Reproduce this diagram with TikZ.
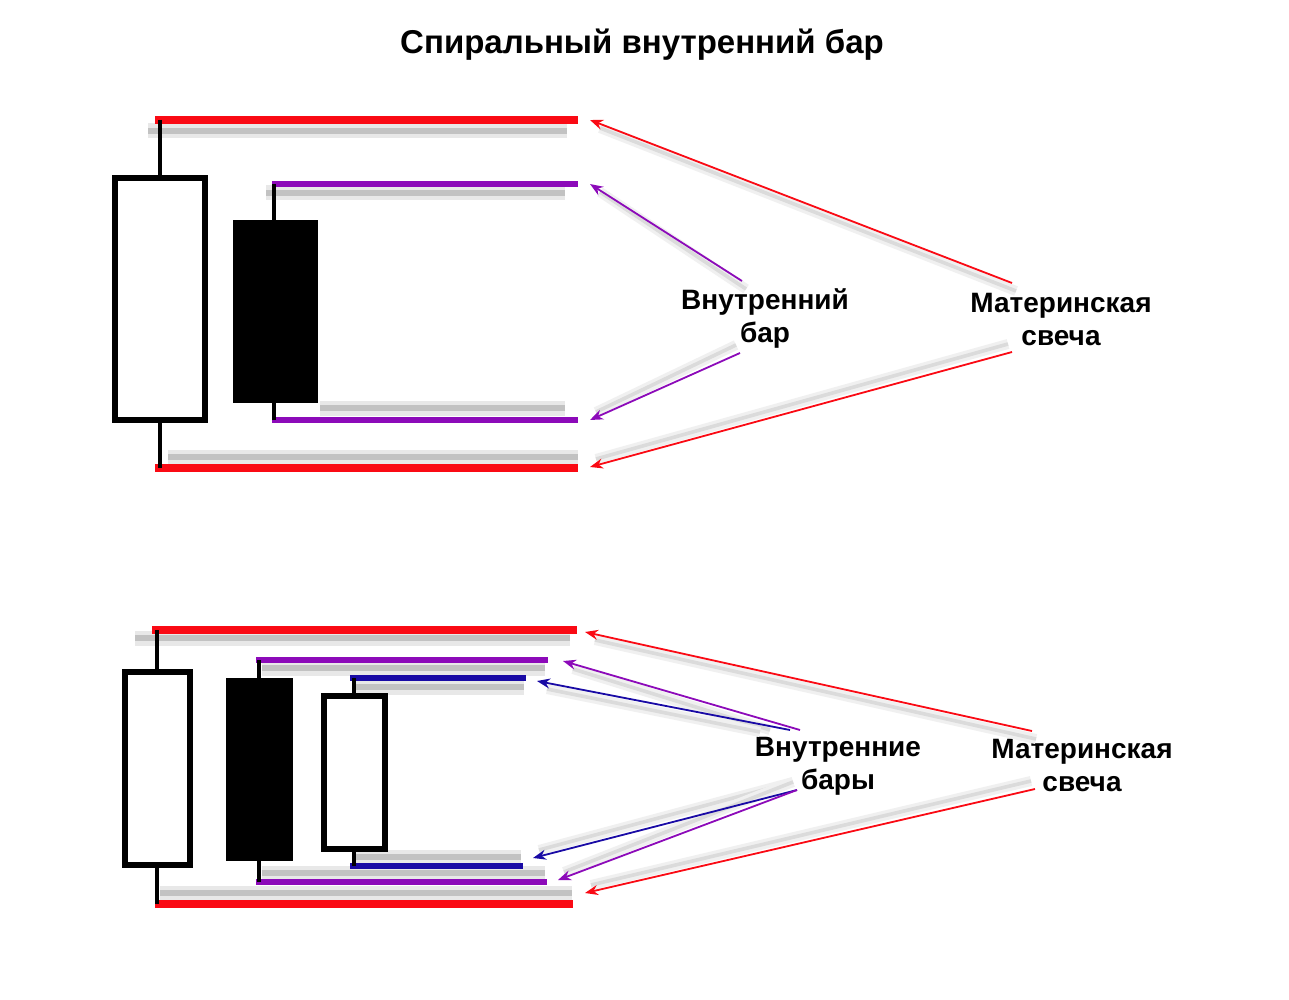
\documentclass[tikz,border=0pt]{standalone}
\usepackage{fontspec}
\setmainfont{Liberation Sans}
\usetikzlibrary{arrows.meta}

\definecolor{momred}{RGB}{250,10,20}
\definecolor{inpurple}{RGB}{140,10,185}
\definecolor{inblue}{RGB}{25,10,165}

\tikzset{
  momline/.style={momred,line width=3.9pt},
  inline/.style={inpurple,line width=2.7pt},
  blueline/.style={inblue,line width=2.7pt},
  wick/.style={line width=2pt},
  body/.style={line width=2.6pt},
  shade/.style={black!24,line width=3pt,preaction={draw=black!9,line width=7.5pt}},
  arrshade/.style={black!14,line width=1.8pt,preaction={draw=black!6,line width=5pt}},
  ptr/.style={line width=.9pt,-{Stealth[length=6.5pt,width=5pt]}},
  lbl/.style={font=\bfseries\fontsize{14}{16.5}\selectfont,align=center}
}

\begin{document}
\begin{tikzpicture}[x=0.5pt,y=-0.5pt]
  \useasboundingbox[fill=white] (0,0) rectangle (1289,1000);

  % title
  \node[font=\bfseries\fontsize{16.5}{19}\selectfont] (title) at (642,45) {Спиральный внутренний бар};

  % ---------- upper pattern ----------
  % shadows
  \draw[shade] (148,131) -- (567,131);
  \draw[shade] (266,193) -- (565,193);
  \draw[shade] (320,408) -- (565,408);
  \draw[shade] (168,457) -- (578,457);

  % mother candle
  \draw[momline] (155,120) -- (578,120);
  \draw[momline] (155,468) -- (578,468);
  \draw[wick] (160,120) -- (160,178);
  \draw[wick] (160,420) -- (160,468);
  \draw[body,fill=white] (115,178) rectangle (205,420);

  % inside bar
  \draw[inline] (272,184) -- (578,184);
  \draw[inline] (272,420) -- (578,420);
  \draw[wick] (274,184) -- (274,223);
  \draw[wick] (274,400) -- (274,420);
  \draw[body,fill=black] (236,223) rectangle (315,400);

  % labels
  \node[lbl] (inner1) at (765,318) {Внутренний\\бар};
  \node[lbl] (mother1) at (1061,320) {Материнская\\свеча};

  \coordinate (mt1) at (590,120);
  \coordinate (mb1) at (590,467);
  \coordinate (it1) at (590,184);
  \coordinate (ib1) at (590,420);
  \coordinate (ma1) at (1012,283);
  \coordinate (mz1) at (1012,352);
  \coordinate (ia1) at (742,281);
  \coordinate (iz1) at (740,353);

  % arrows
  \draw[arrshade] ([shift={(4,8)}]ma1) -- ([shift={(10,8)}]mt1);
  \draw[arrshade] ([shift={(4,8)}]ia1) -- ([shift={(10,8)}]it1);
  \draw[arrshade] ([shift={(-4,-8)}]iz1) -- ([shift={(6,-8)}]ib1);
  \draw[arrshade] ([shift={(-4,-8)}]mz1) -- ([shift={(6,-8)}]mb1);
  \draw[ptr,momred] (ma1) -- (mt1);
  \draw[ptr,inpurple] (ia1) -- (it1);
  \draw[ptr,inpurple] (iz1) -- (ib1);
  \draw[ptr,momred] (mz1) -- (mb1);

  % ---------- lower pattern ----------
  % shadows
  \draw[shade] (135,638) -- (570,638);
  \draw[shade] (262,668) -- (545,668);
  \draw[shade] (356,687) -- (524,687);
  \draw[shade] (356,857) -- (521,857);
  \draw[shade] (262,873) -- (545,873);
  \draw[shade] (160,893) -- (572,893);

  % mother candle
  \draw[momline] (152,630) -- (577,630);
  \draw[momline] (155,904) -- (573,904);
  \draw[wick] (157,630) -- (157,672);
  \draw[wick] (157,865) -- (157,904);
  \draw[body,fill=white] (125,672) rectangle (190,865);

  % first inside bar
  \draw[inline] (256,660) -- (548,660);
  \draw[inline] (256,882) -- (547,882);
  \draw[wick] (259,660) -- (259,681);
  \draw[wick] (259,858) -- (259,882);
  \draw[body,fill=black] (229,681) rectangle (290,858);

  % second inside bar
  \draw[blueline] (350,678) -- (526,678);
  \draw[blueline] (350,866) -- (523,866);
  \draw[wick] (354,678) -- (354,696);
  \draw[wick] (354,849) -- (354,866);
  \draw[body,fill=white] (324,696) rectangle (385,849);

  % labels
  \node[lbl] (inner2) at (838,766) {Внутренние\\бары};
  \node[lbl] (mother2) at (1082,765) {Материнская\\свеча};

  \coordinate (mt2) at (585,632);
  \coordinate (mb2) at (585,893);
  \coordinate (it2) at (563,661);
  \coordinate (ib2) at (558,880);
  \coordinate (bt2) at (537,681);
  \coordinate (bb2) at (533,858);
  \coordinate (ma2) at (1032,731);
  \coordinate (mz2) at (1035,789);
  \coordinate (ia2) at (800,730);
  \coordinate (iz2) at (797,790);

  % arrows
  \draw[arrshade] ([shift={(4,8)}]ma2) -- ([shift={(10,8)}]mt2);
  \draw[arrshade] ([shift={(-30,0)}]ia2) -- ([shift={(10,8)}]it2);
  \draw[arrshade] ([shift={(-40,2)}]ia2) -- ([shift={(10,8)}]bt2);
  \draw[arrshade] ([shift={(-4,-8)}]iz2) -- ([shift={(6,-8)}]bb2);
  \draw[arrshade] ([shift={(-4,-8)}]iz2) -- ([shift={(6,-8)}]ib2);
  \draw[arrshade] ([shift={(-4,-8)}]mz2) -- ([shift={(6,-8)}]mb2);
  \draw[ptr,momred] (ma2) -- (mt2);
  \draw[ptr,inpurple] (ia2) -- (it2);
  \draw[ptr,inblue] ([xshift=-5]ia2) -- (bt2);
  \draw[ptr,inblue] (iz2) -- (bb2);
  \draw[ptr,inpurple] (iz2) -- (ib2);
  \draw[ptr,momred] (mz2) -- (mb2);
\end{tikzpicture}
\end{document}
